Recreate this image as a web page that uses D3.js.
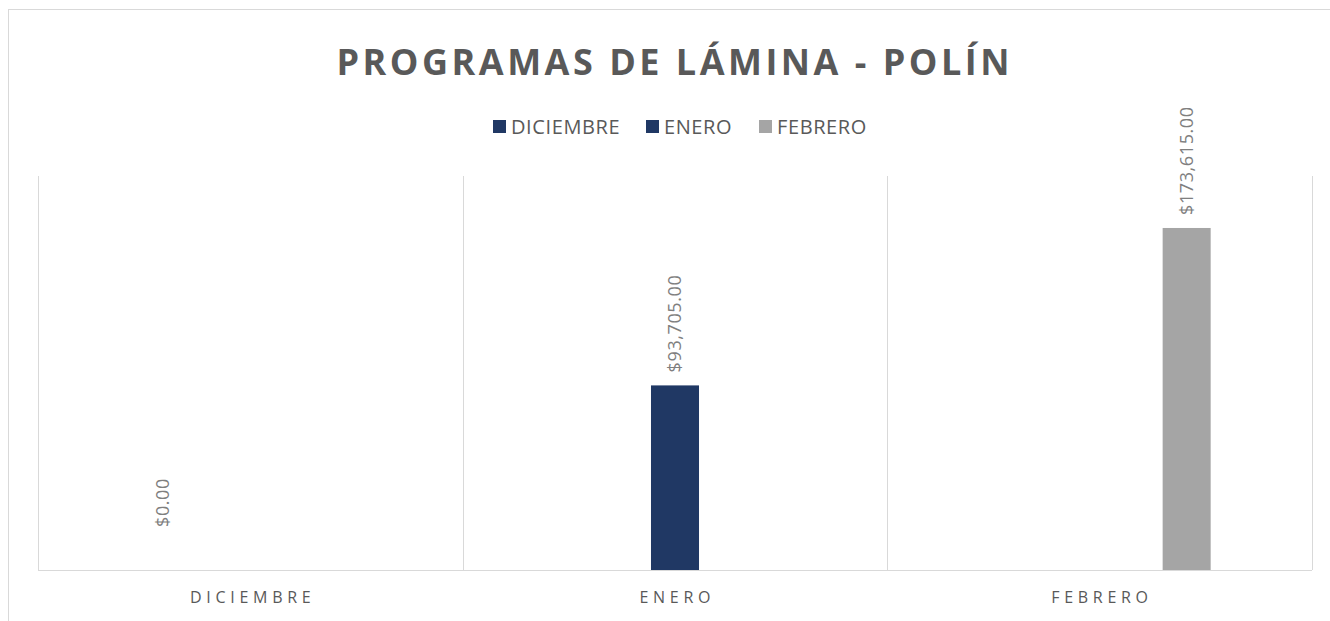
<!DOCTYPE html>
<html><head><meta charset="utf-8">
<script src="https://cdn.jsdelivr.net/npm/d3@7"></script>
<style>body{margin:0;background:#fff;}svg{display:block;}</style>
</head><body>
<svg id="c" width="1330" height="621"></svg>
<script>
const title = "PROGRAMAS DE LÁMINA - POLÍN";
const categories = ["DICIEMBRE", "ENERO", "FEBRERO"];
const seriesNames = ["DICIEMBRE", "ENERO", "FEBRERO"];
const seriesColors = ["#203864", "#203864", "#A5A5A5"];
// each series only has a value in its own month
const valDiciembre = [0, null, null];
const valEnero = [null, 93705, null];
const valFebrero = [null, null, 173615];
const yMax = 200000;

const seriesVals = [valDiciembre, valEnero, valFebrero];
const svg = d3.select("#c");
const W = 1330, H = 621;
const m = {left: 38, right: 18, top: 176, bottom: 51};
const font = "'Open Sans', sans-serif";

// chart border
svg.append("rect").attr("x", 8.5).attr("y", 9.5).attr("width", 1330).attr("height", 640)
  .attr("fill", "#fff").attr("stroke", "#d9d9d9").attr("stroke-width", 1);

const x0 = d3.scaleBand().domain(categories).range([m.left, W - m.right]).padding(0);
const x1 = d3.scaleBand().domain(seriesNames).range([0, x0.bandwidth()])
  .paddingInner(0.448).paddingOuter(1.165);
const y = d3.scaleLinear().domain([0, yMax]).range([H - m.bottom, m.top]);

// vertical gridlines at category boundaries
const bounds = categories.map(c => x0(c)).concat([x0(categories[categories.length-1]) + x0.bandwidth()]);
svg.append("g").selectAll("line").data(bounds).join("line")
  .attr("x1", d => Math.round(d) + 0.5).attr("x2", d => Math.round(d) + 0.5)
  .attr("y1", m.top).attr("y2", H - m.bottom)
  .attr("stroke", "#d9d9d9").attr("stroke-width", 1);

// x axis
const axLS = 4.7;
const xAxis = svg.append("g").attr("transform", `translate(0,${Math.round(y(0)) + 0.5})`)
  .call(d3.axisBottom(x0).tickSize(0).tickPadding(21));
xAxis.select(".domain").attr("stroke", "#d9d9d9").attr("d", `M${m.left},0H${W - m.right}`);
xAxis.selectAll("text").attr("font-family", font).attr("font-size", 16)
  .attr("fill", "#595959").attr("letter-spacing", axLS + "px").attr("dx", axLS / 2);

// bars
const data = [];
seriesNames.forEach((s, si) => {
  categories.forEach((c, ci) => {
    const v = seriesVals[si][ci];
    if (v !== null) data.push({series: s, cat: c, value: v, color: seriesColors[si]});
  });
});
const fmt = d3.format("$,.2f");
svg.append("g").selectAll("rect").data(data).join("rect")
  .attr("x", d => x0(d.cat) + x1(d.series))
  .attr("width", x1.bandwidth())
  .attr("y", d => y(d.value))
  .attr("height", d => y(0) - y(d.value))
  .attr("fill", d => d.color);

// labels (rotated)
svg.append("g").selectAll("text").data(data).join("text")
  .attr("transform", d => {
    const cx = x0(d.cat) + x1(d.series) + x1.bandwidth() / 2;
    const yy = Math.min(y(d.value) - 13, y(0) - 43);
    return `translate(${cx + 6},${yy}) rotate(-90)`;
  })
  .attr("font-family", font).attr("font-size", 18).attr("letter-spacing", "0.6px")
  .attr("fill", "#7f7f7f")
  .text(d => fmt(d.value));

// title
svg.append("text").attr("x", 673).attr("y", 75).attr("text-anchor", "middle")
  .attr("dx", 1.75)
  .attr("font-family", font).attr("font-weight", "bold").attr("font-size", 36)
  .attr("letter-spacing", "3.5px").attr("fill", "#595959").text(title);

// legend
const legendX = [493, 646, 759];
const lg = svg.append("g");
seriesNames.forEach((s, i) => {
  lg.append("rect").attr("x", legendX[i]).attr("y", 120).attr("width", 13).attr("height", 13)
    .attr("fill", seriesColors[i]);
  lg.append("text").attr("x", legendX[i] + 18).attr("y", 134)
    .attr("font-family", font).attr("font-size", 20).attr("letter-spacing", "0.6px")
    .attr("fill", "#595959").text(s);
});
</script>
</body></html>
